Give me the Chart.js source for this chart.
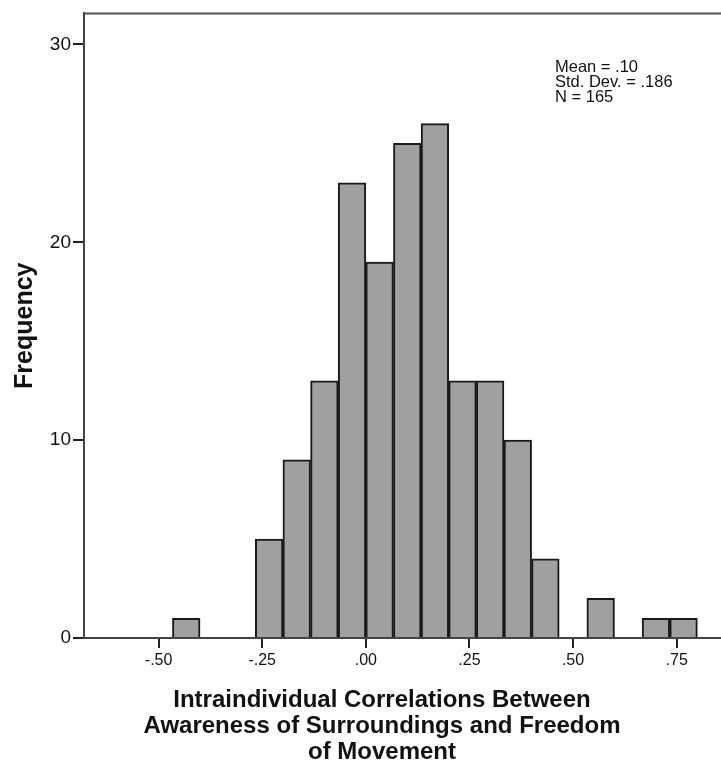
<!DOCTYPE html>
<html>
<head>
<meta charset="utf-8">
<script src="https://cdn.jsdelivr.net/npm/chart.js@4"></script>
<style>
  html, body { margin: 0; padding: 0; background: #fff; }
  #wrap { width: 721px; height: 763px; }
</style>
</head>
<body>
<div id="wrap"><canvas id="histChart" width="721" height="763"></canvas></div>
<script>
// bin centres (bin width 1/15) and counts
const binCenters = [-0.4333, -0.3667, -0.3, -0.2333, -0.1667, -0.1, -0.0333, 0.0333, 0.1,
  0.1667, 0.2333, 0.3, 0.3667, 0.4333, 0.5, 0.5667, 0.6333, 0.7, 0.7667];
const counts = [1, 0, 0, 5, 9, 13, 23, 19, 25, 26, 13, 13, 10, 4, 0, 2, 0, 1, 1];

const xTicks = [-0.5, -0.25, 0, 0.25, 0.5, 0.75];
const yTicks = [0, 10, 20, 30];

const statsLines = ["Mean = .10", "Std. Dev. = .186", "N = 165"];
const xTitleLines = ["Intraindividual Correlations Between", "Awareness of Surroundings and Freedom", "of Movement"];

const fmt = (v) => v.toFixed(2).replace("0.", ".");

const extras = {
  id: "extras",
  afterDraw(chart) {
    const ctx = chart.ctx;
    const area = chart.chartArea;
    ctx.save();
    // top frame line
    ctx.strokeStyle = "#555";
    ctx.lineWidth = 2;
    ctx.beginPath();
    ctx.moveTo(area.left, area.top);
    ctx.lineTo(area.right, area.top);
    ctx.stroke();

    // statistics box
    ctx.fillStyle = "#111";
    ctx.font = "16.5px 'Liberation Sans', Arial, sans-serif";
    ctx.textAlign = "left";
    ctx.textBaseline = "alphabetic";
    statsLines.forEach((t, i) => ctx.fillText(t, 555, 72 + i * 15));

    // x axis title
    ctx.font = "bold 24px 'Liberation Sans', Arial, sans-serif";
    ctx.textAlign = "center";
    xTitleLines.forEach((t, i) => ctx.fillText(t, 382, 707 + i * 26));
    ctx.restore();
  },
};

const ctx = document.getElementById("histChart").getContext("2d");

new Chart(ctx, {
  type: "bar",
  data: {
    datasets: [
      {
        data: binCenters.map((x, i) => ({ x: x, y: counts[i] })),
        backgroundColor: "#a0a0a0",
        borderColor: "#1a1a1a",
        borderWidth: 2,
        barPercentage: 1,
        categoryPercentage: 1,
      },
    ],
  },
  options: {
    responsive: false,
    animation: false,
    layout: { padding: { top: 10, left: 0, right: 0, bottom: 0 } },
    plugins: {
      legend: { display: false },
      tooltip: { enabled: false },
    },
    scales: {
      x: {
        type: "linear",
        offset: false,
        min: -0.68,
        max: 0.857,
        afterBuildTicks: (scale) => {
          scale.ticks = xTicks.map((v) => ({ value: v }));
        },
        afterFit: (scale) => {
          scale.height = 125;
        },
        ticks: {
          callback: (v) => fmt(v),
          color: "#111",
          font: { size: 16, family: "'Liberation Sans', Arial, sans-serif" },
          padding: 3,
          maxRotation: 0,
        },
        grid: {
          offset: false,
          drawOnChartArea: false,
          drawTicks: true,
          tickLength: 10,
          color: "#222",
          lineWidth: 2,
        },
        border: { color: "#444", width: 2 },
      },
      y: {
        min: 0,
        max: 31.57,
        afterBuildTicks: (scale) => {
          scale.ticks = yTicks.map((v) => ({ value: v }));
        },
        afterFit: (scale) => {
          scale.width = 84;
        },
        ticks: {
          color: "#111",
          font: { size: 19, family: "'Liberation Sans', Arial, sans-serif" },
          padding: 2,
        },
        grid: {
          drawOnChartArea: false,
          drawTicks: true,
          tickLength: 11,
          color: "#222",
          lineWidth: 2,
        },
        border: { color: "#444", width: 2 },
        title: {
          display: true,
          text: "Frequency",
          color: "#111",
          font: { size: 25, weight: "bold", family: "'Liberation Sans', Arial, sans-serif" },
          padding: { top: 10, bottom: 0 },
        },
      },
    },
  },
  plugins: [extras],
});
</script>
</body>
</html>
